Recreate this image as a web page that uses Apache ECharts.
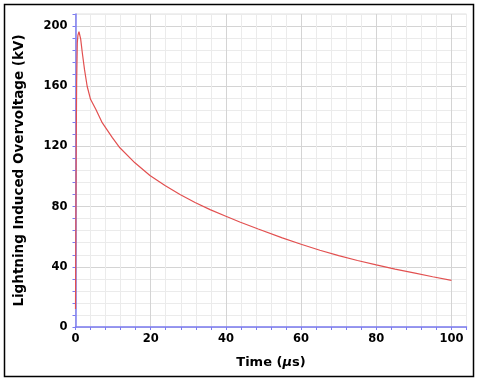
<!DOCTYPE html>
<html>
<head>
<meta charset="utf-8">
<script src="https://cdn.jsdelivr.net/npm/echarts@6/dist/echarts.min.js"></script>
<style>
html,body{margin:0;padding:0;background:#fff;}
#c{width:479px;height:383px;}
</style>
</head>
<body>
<div id="c"></div>
<script>
// Time (µs)
var times = [0, 0.1, 0.2, 0.3, 0.48, 0.65, 0.93, 1.15, 1.38, 1.8, 2.4, 3.1, 4.0, 5.4, 7.1, 9.8, 11.8, 15.8, 19.8, 23.8, 27.8, 31.8, 35.8, 40, 43.7, 48.6, 55, 60, 65, 70, 75, 80, 85, 90, 95, 100];
// Lightning induced overvoltage (kV)
var volts = [12, 70, 125, 162, 189, 194, 196.2, 195, 191.3, 182.4, 171, 160, 151.3, 144.7, 135.8, 125.8, 119.1, 109.1, 100.7, 94, 88, 82.7, 78, 73.6, 69.8, 65.1, 59.2, 55, 51, 47.4, 44.2, 41.3, 38.5, 36, 33.4, 31];
var xTickLabels = [0, 20, 40, 60, 80, 100];
var yTickLabels = [0, 40, 80, 120, 160, 200];

var pts = times.map(function (t, i) { return [t, volts[i]]; });
var major = '#d4d4d4', minor = '#ebebeb';
var axisBlue = '#7c7cf2';
var font = 'DejaVu Sans';

var chart = echarts.init(document.getElementById('c'), null, {renderer: 'canvas'});
chart.setOption({
  animation: false,
  backgroundColor: '#fff',
  grid: {left: 75.5, right: 12.5, top: 14, bottom: 56, show: true, borderColor: '#e0e0e0', borderWidth: 1},
  graphic: [{
    type: 'rect', shape: {x: 4.5, y: 4.5, width: 469, height: 372},
    style: {fill: 'none', stroke: '#000', lineWidth: 1.5}, silent: true
  }],
  xAxis: {
    type: 'value', min: 0, max: 104, interval: 4,
    name: 'Time ({i|µ}s)', nameLocation: 'middle', nameGap: 29,
    nameTextStyle: {fontFamily: font, fontWeight: 'bold', fontSize: 13, color: '#000',
      rich: {i: {fontFamily: font, fontWeight: 'bold', fontStyle: 'italic', fontSize: 13, color: '#000'}}},
    axisLine: {show: true, onZero: false, lineStyle: {color: axisBlue, width: 1.5}},
    axisTick: {show: true, length: 3, lineStyle: {color: axisBlue}},
    axisLabel: {interval: 0, margin: 6, fontFamily: font, fontWeight: 'bold', fontSize: 11.5, color: '#000',
      formatter: function (v) { return xTickLabels.indexOf(v) >= 0 ? String(v) : ''; }},
    splitLine: {show: true, lineStyle: {color: [major, minor, minor, minor, minor], width: 1}}
  },
  yAxis: {
    type: 'value', min: 0, max: 208, interval: 8,
    name: 'Lightning Induced Overvoltage (kV)', nameLocation: 'middle', nameGap: 49, nameRotate: 90,
    nameTextStyle: {fontFamily: font, fontWeight: 'bold', fontSize: 13.5, color: '#000'},
    axisLine: {show: true, onZero: false, lineStyle: {color: axisBlue, width: 1.5}},
    axisTick: {show: true, length: 3, lineStyle: {color: axisBlue}},
    axisLabel: {interval: 0, margin: 8, fontFamily: font, fontWeight: 'bold', fontSize: 11.5, color: '#000',
      formatter: function (v) { return yTickLabels.indexOf(v) >= 0 ? String(v) : ''; }},
    splitLine: {show: true, lineStyle: {color: [major, minor, minor, minor, minor], width: 1}}
  },
  series: [{
    type: 'line', data: pts, showSymbol: false, smooth: false,
    lineStyle: {color: '#e25050', width: 1.2}, z: 3
  }]
});
</script>
</body>
</html>
